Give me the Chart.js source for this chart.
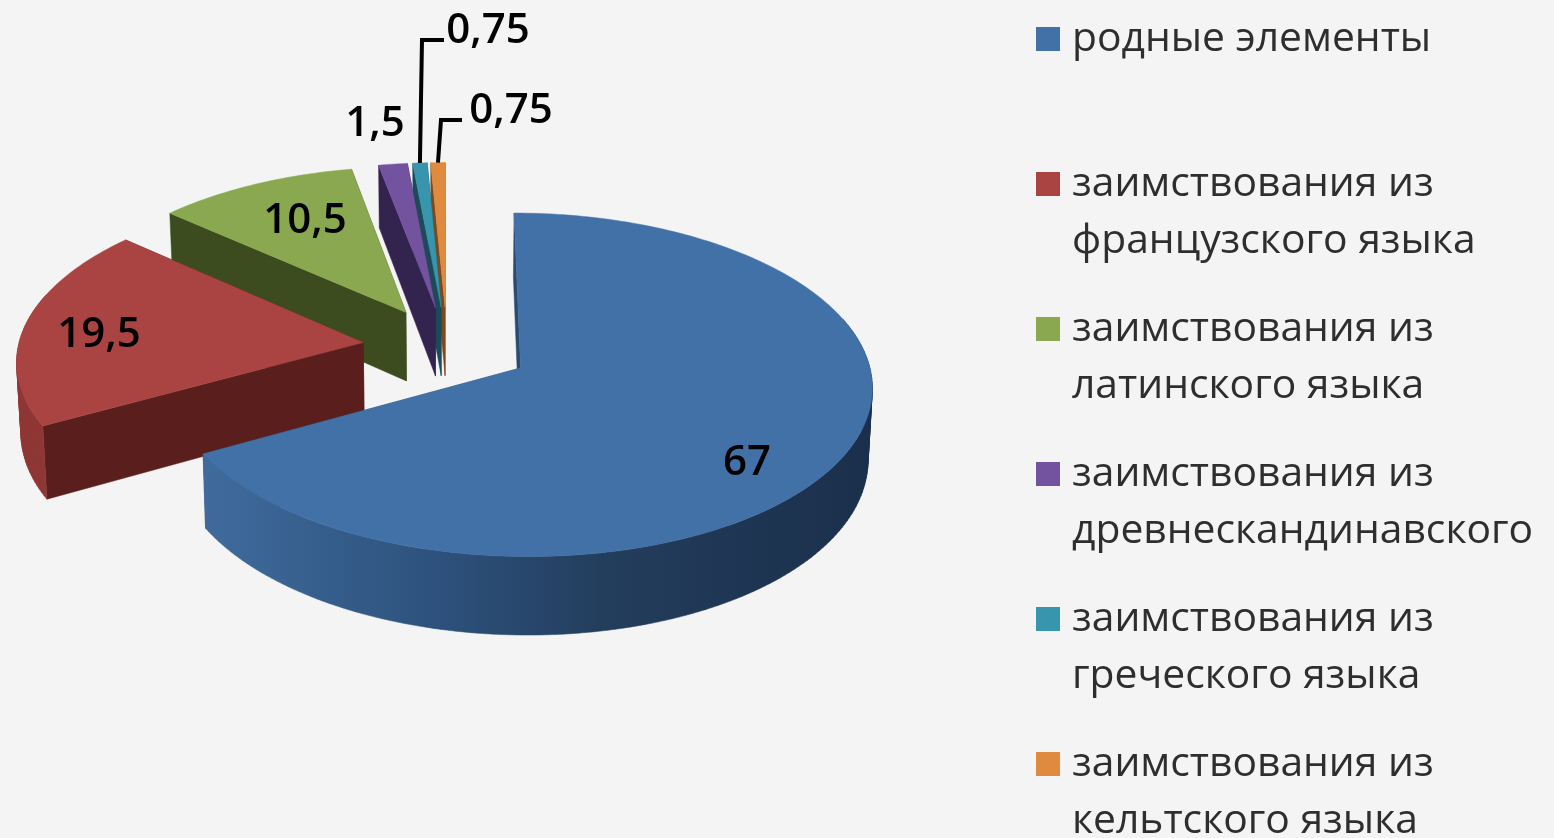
<!DOCTYPE html>
<html lang="ru">
<head>
<meta charset="utf-8">
<title>Состав словаря</title>
<script src="https://cdn.jsdelivr.net/npm/chart.js@4"></script>
<style>
    html, body { margin: 0; height: 100%; overflow: hidden; background: #f4f4f4; }
    #wrap { position: relative; width: 1554px; height: 838px; }
    #pie { position: absolute; left: 0; top: 0; }
    #legend { position: absolute; left: 1036px; top: 7px; font: 400 40.8px "Open Sans", sans-serif; color: #2e2e2e; }
    .item { position: relative; height: 145px; line-height: 57px; padding-left: 36px; white-space: nowrap; }
    .item i { position: absolute; left: 0; top: 20px; width: 24px; height: 24px; }
</style>
</head>
<body>
<div id="wrap">
    <canvas id="pie" width="1554" height="838"></canvas>
    <div id="legend"></div>
</div>
<script>
const categories = [
    ["родные элементы"],
    ["заимствования из", "французского языка"],
    ["заимствования из", "латинского языка"],
    ["заимствования из", "древнескандинавского"],
    ["заимствования из", "греческого языка"],
    ["заимствования из", "кельтского языка"],
];
const shares = [67, 19.5, 10.5, 1.5, 0.75, 0.75];
const topColors = ["#4271a8", "#a94442", "#8aa84f", "#7353a0", "#3795ad", "#df8a3e"];
const cutColors = ["#2b4a70", "#5a1e1c", "#3d4c1f", "#33234f", "#1c4a58", "#7a4a1e"];
const rimColors = ["#2f5480", "#8e3734", "#5f7536", "#4d3770", "#256676", "#a0622a"];

// where the value text sits; the last two get a leader line with an elbow
const labelSpots = [[747, 463], [99, 335], [305, 221], [375, 124], [488, 31], [511, 111]];
const leaderElbows = { 4: [[422, 40], [444, 40]], 5: [[441, 120], [462, 120]] };

const RADIUS = 200;
const EXPLODE = 0.245;

// perspective of the tilted disc, u and v are in pie radii
const view = { cx: 447, cy: 347, ax: 345, ay: 166, tilt: 0.0968, depth: 70, shrink: 0.99 };

// the rim stays visible a little past the widest point of the disc
const RIM_OVERRUN = 0.3;

function project(u, v, lower) {
    const w = 1 + view.tilt * v;
    const ax = lower ? view.ax * view.shrink : view.ax;
    const y = view.cy - view.ay * v / w;
    return [view.cx + ax * u / w, lower ? y + view.depth / w : y];
}

// flat pie coordinates of a point on an exploded arc
function flatPoint(arc, angle, r) {
    const mid = (arc.startAngle + arc.endAngle) / 2;
    const off = arc.options.offset;
    return [
        (off * Math.cos(mid) + r * arc.outerRadius * Math.cos(angle)) / arc.outerRadius,
        -(off * Math.sin(mid) + r * arc.outerRadius * Math.sin(angle)) / arc.outerRadius,
    ];
}

function rimPoints(arc, from, to, lower) {
    const steps = Math.max(2, Math.ceil((to - from) / 0.02));
    const pts = [];
    for (let i = 0; i <= steps; i++) {
        const p = flatPoint(arc, from + (to - from) * i / steps, 1);
        pts.push(project(p[0], p[1], lower));
    }
    return pts;
}

function tracePoly(ctx, pts) {
    pts.forEach((p, i) => (i ? ctx.lineTo(p[0], p[1]) : ctx.moveTo(p[0], p[1])));
    ctx.closePath();
}

function paintPath(ctx, fill) {
    ctx.fillStyle = fill;
    ctx.fill();
    ctx.strokeStyle = fill;
    ctx.lineWidth = 0.5;
    ctx.stroke();
}

function fillPoly(ctx, pts, fill) {
    ctx.beginPath();
    tracePoly(ctx, pts);
    paintPath(ctx, fill);
}

function signedArea(pts) {
    let sum = 0;
    pts.forEach((p, i) => {
        const q = pts[(i + 1) % pts.length];
        sum += p[0] * q[1] - q[0] * p[1];
    });
    return sum;
}

function drawSlice(ctx, arc, i) {
    const tip = flatPoint(arc, arc.startAngle, 0);
    const tipTop = project(tip[0], tip[1], false);
    const tipLow = project(tip[0], tip[1], true);

    // cut faces
    [arc.endAngle, arc.startAngle].forEach((a) => {
        const p = flatPoint(arc, a, 1);
        fillPoly(ctx, [tipTop, project(p[0], p[1], false), project(p[0], p[1], true), tipLow], cutColors[i]);
    });

    // curved rim, only the part turned towards the viewer
    const from = Math.max(arc.startAngle, -RIM_OVERRUN);
    const to = Math.min(arc.endAngle, Math.PI + RIM_OVERRUN);
    if (to > from) {
        const upper = rimPoints(arc, from, to, false);
        const lower = rimPoints(arc, from, to, true);
        let fill = rimColors[i];
        if (i === 0) {
            fill = ctx.createLinearGradient(207, 0, 873, 0);
            fill.addColorStop(0, "#3f6b9c");
            fill.addColorStop(0.35, "#2d517c");
            fill.addColorStop(0.6, "#233d5c");
            fill.addColorStop(1, "#1a2f4b");
        }
        // quads share one path, wound the same way so that none cancels another
        ctx.beginPath();
        for (let s = 0; s < upper.length - 1; s++) {
            const quad = [upper[s], upper[s + 1], lower[s + 1], lower[s]];
            tracePoly(ctx, signedArea(quad) < 0 ? quad.reverse() : quad);
        }
        paintPath(ctx, fill);
    }

    fillPoly(ctx, [tipTop].concat(rimPoints(arc, arc.startAngle, arc.endAngle, false)), topColors[i]);
}

function drawLabels(ctx, arcs) {
    ctx.fillStyle = "#000";
    ctx.font = '600 42px "Open Sans", sans-serif';
    ctx.textAlign = "center";
    ctx.textBaseline = "middle";
    shares.forEach((value, i) => {
        ctx.fillText(String(value).replace(".", ","), labelSpots[i][0], labelSpots[i][1]);
    });

    ctx.strokeStyle = "#000";
    ctx.lineWidth = 4;
    Object.keys(leaderElbows).forEach((k) => {
        const arc = arcs[k];
        const p = flatPoint(arc, (arc.startAngle + arc.endAngle) / 2, 1);
        const start = project(p[0], p[1], false);
        ctx.beginPath();
        ctx.moveTo(start[0], start[1]);
        leaderElbows[k].forEach((e) => ctx.lineTo(e[0], e[1]));
        ctx.stroke();
    });
}

const solidPie = {
    id: "solidPie",
    beforeDatasetsDraw(chart) {
        const ctx = chart.ctx;
        const arcs = chart.getDatasetMeta(0).data;
        // far slices first, the large front slice last
        for (let i = arcs.length - 1; i >= 0; i--) {
            drawSlice(ctx, arcs[i], i);
        }
        drawLabels(ctx, arcs);
        return false;
    },
};

new Chart(document.getElementById("pie").getContext("2d"), {
    type: "pie",
    data: {
        labels: categories.map((c) => c.join(" ")),
        datasets: [{
            data: shares,
            backgroundColor: topColors,
            borderWidth: 0,
            offset: RADIUS * EXPLODE,
        }],
    },
    options: {
        responsive: false,
        animation: false,
        radius: RADIUS,
        plugins: {
            legend: { display: false },
            tooltip: { enabled: false },
        },
    },
    plugins: [solidPie],
});

const legend = document.getElementById("legend");
categories.forEach((lines, i) => {
    const item = document.createElement("div");
    item.className = "item";
    const box = document.createElement("i");
    box.style.background = topColors[i];
    item.appendChild(box);
    lines.forEach((line) => {
        const row = document.createElement("div");
        row.textContent = line;
        item.appendChild(row);
    });
    legend.appendChild(item);
});
</script>
</body>
</html>
